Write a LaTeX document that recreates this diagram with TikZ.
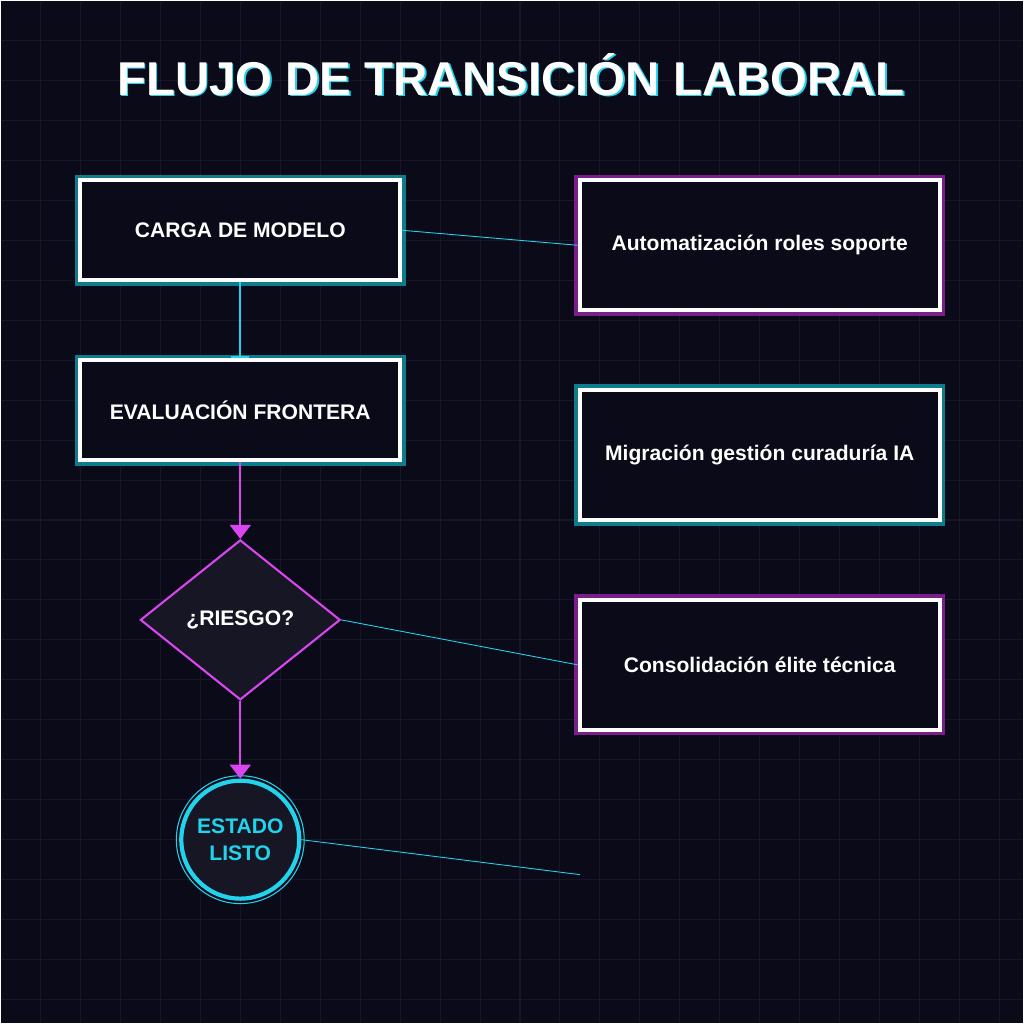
\documentclass[tikz,border=0pt]{standalone}
\usepackage{fontspec}
\setmainfont{Liberation Sans}
\usetikzlibrary
  {
    arrows.meta,  % arrow tips
    shapes.geometric, % diamond
    positioning,
  }
\definecolor{bgdark}{HTML}{0A0A18}
\definecolor{gridline}{HTML}{161628}
\definecolor{neoncyan}{HTML}{22D3EE}
\definecolor{neonteal}{HTML}{0E7C8A}
\definecolor{neonpink}{HTML}{D946EF}
\definecolor{deeppink}{HTML}{7A1F8A}
\definecolor{nodefill}{HTML}{161624}

\begin{document}
\begin{tikzpicture}
    [
      x=0.01cm, y=-0.01cm,
      stage/.style=
        {
          rectangle,
          draw=white,
          line width=1.2pt,
          fill=bgdark,
          minimum width=3.2cm,
          minimum height=1cm,
          font=\fontsize{6}{7}\selectfont\bfseries,
          text=white,
        },
      side/.style=
        {
          stage,
          minimum width=3.6cm,
          minimum height=1.3cm,
        },
      tealglow/.style={preaction={draw=neonteal, line width=3.2pt}},
      pinkglow/.style={preaction={draw=deeppink, line width=3.2pt}},
      link/.style={neoncyan, line width=0.25pt},
    ]
    % background and grid
    \fill[bgdark] (0,0) rectangle (1024,1024);
    \foreach \g in {40,80,...,1000}
      {
        \draw[gridline, line width=0.3pt] (\g,0) -- (\g,1024);
        \draw[gridline, line width=0.3pt] (0,\g) -- (1024,\g);
      }
    \useasboundingbox (0,0) rectangle (1024,1024);

    % title
    \node[text=neoncyan, font=\fontsize{13.5}{15}\selectfont\bfseries] (title glow) at (512.6,75.6) {FLUJO DE TRANSICIÓN LABORAL};
    \node[text=white, font=\fontsize{13.5}{15}\selectfont\bfseries] (title) at (511,74) {FLUJO DE TRANSICIÓN LABORAL};

    % main flow
    \node[stage, tealglow] (carga)      at (240,230) {CARGA DE MODELO};
    \node[stage, tealglow] (evaluacion) at (240,410) {EVALUACIÓN FRONTERA};
    \node[diamond, draw=neonpink, line width=0.6pt, fill=nodefill,
          minimum width=2cm, minimum height=1.6cm, inner sep=0pt,
          font=\fontsize{6}{7}\selectfont\bfseries, text=white] (riesgo) at (240,620) {¿RIESGO?};
    \node[circle, draw=neoncyan, line width=1.2pt, fill=nodefill,
          minimum size=1.18cm, inner sep=0pt, align=center,
          font=\fontsize{6}{7.8}\selectfont\bfseries, text=neoncyan] (listo) at (240,840) {ESTADO\\LISTO};
    \draw[neoncyan, line width=0.3pt] (listo.center) circle (64);

    % side notes
    \node[side, pinkglow] (roles)     at (760,245) {Automatización roles soporte};
    \node[side, tealglow] (curaduria) at (760,455) {Migración gestión curaduría IA};
    \node[side, pinkglow] (elite)     at (760,665) {Consolidación élite técnica};
    \coordinate (listo end) at (580,875);

    % connectors
    \draw[neoncyan, line width=0.6pt, -{Bar[width=5pt]}] (carga) -- (evaluacion);
    \draw[neonpink, line width=0.6pt, -{Triangle[width=6pt, length=4pt]}] (evaluacion) -- (riesgo);
    \draw[neonpink, line width=0.6pt, -{Triangle[width=6pt, length=4pt]}] (riesgo) -- (listo);
    \draw[link] (carga.east) -- (roles.west);
    \draw[link] (riesgo.east) -- (elite.west);
    \draw[link] (listo.east) -- (listo end);
  \end{tikzpicture}
\end{document}
